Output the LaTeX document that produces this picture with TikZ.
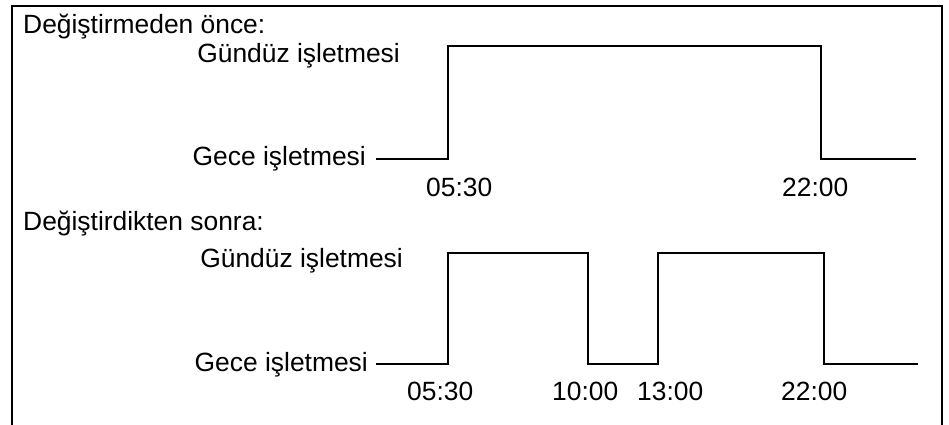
\documentclass[tikz,border=0pt]{standalone}
\usepackage{fontspec}
\setmainfont{Liberation Sans}
\begin{document}
\begin{tikzpicture}[x=1pt,y=-1pt,
  lbl/.style={inner sep=0pt,font=\fontsize{26.4}{30}\selectfont},
  wave/.style={line width=2pt,line join=miter},
  frame/.style={line width=2pt}]
\useasboundingbox (0,0) rectangle (949,425);
% frame (open at bottom)
\draw[frame] (12,425) -- (12,6) -- (942,6) -- (942,425);
% headings
\node[lbl,anchor=base west] (h1) at (23,34) {Değiştirmeden önce:};
\node[lbl,anchor=base west] (h2) at (23,230) {Değiştirdikten sonra:};
% top diagram
\node[lbl,anchor=base east] (g1) at (400,63) {Gündüz işletmesi};
\node[lbl,anchor=base east] (n1) at (366,165) {Gece işletmesi};
\coordinate (a0) at (376,159);
\coordinate (a1) at (448,159);
\coordinate (a2) at (448,46);
\coordinate (a3) at (821,46);
\coordinate (a4) at (821,159);
\coordinate (a5) at (916,159);
\draw[wave] (a0) -- (a1) -- (a2) -- (a3) -- (a4) -- (a5);
\node[lbl,anchor=base west] (t1) at (426,196) {05:30};
\node[lbl,anchor=base west] (t2) at (782,196) {22:00};
% bottom diagram
\node[lbl,anchor=base east] (g2) at (403,267) {Gündüz işletmesi};
\node[lbl,anchor=base east] (n2) at (368,371) {Gece işletmesi};
\coordinate (b0) at (376,364);
\coordinate (b1) at (448,364);
\coordinate (b2) at (448,253);
\coordinate (b3) at (588,253);
\coordinate (b4) at (588,364);
\coordinate (b5) at (658,364);
\coordinate (b6) at (658,253);
\coordinate (b7) at (824,253);
\coordinate (b8) at (824,364);
\coordinate (b9) at (918,364);
\draw[wave] (b0) -- (b1) -- (b2) -- (b3) -- (b4) -- (b5) -- (b6) -- (b7) -- (b8) -- (b9);
\node[lbl,anchor=base west] (u1) at (407,400) {05:30};
\node[lbl,anchor=base west] (u2) at (552,400) {10:00};
\node[lbl,anchor=base west] (u3) at (637,400) {13:00};
\node[lbl,anchor=base west] (u4) at (781,400) {22:00};
\end{tikzpicture}
\end{document}
